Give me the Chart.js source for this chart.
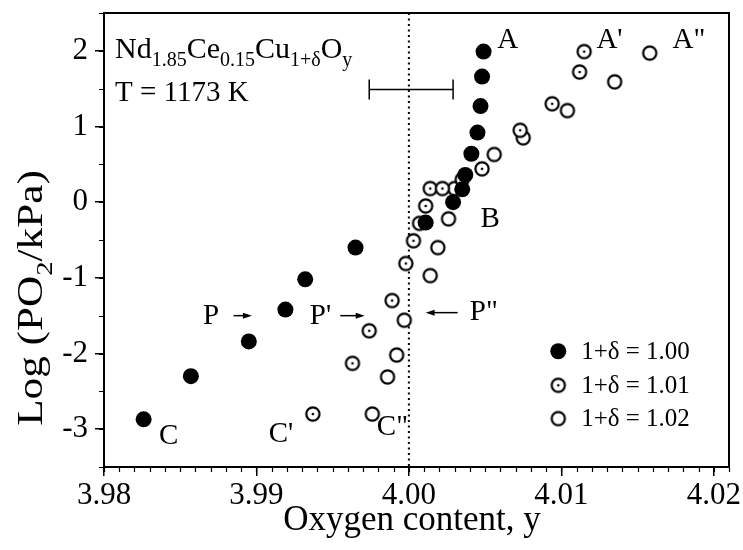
<!DOCTYPE html>
<html>
<head>
<meta charset="utf-8">
<script src="https://cdn.jsdelivr.net/npm/chart.js@4.4.0/dist/chart.umd.min.js"></script>
<style>
  html, body { margin: 0; padding: 0; background: #fff; }
  #wrap { width: 743px; height: 550px; }
</style>
</head>
<body>
<div id="wrap"><canvas id="myChart" width="743" height="550"></canvas></div>
<script>
// 1+delta = 1.00 (filled dots)
let oxy100  = [3.9826, 3.9857, 3.9895, 3.9919, 3.9932, 3.9965, 4.0011, 4.0029, 4.0035, 4.0037, 4.0041, 4.0045, 4.0047, 4.0048, 4.0049];
let logp100 = [-2.87, -2.30, -1.84, -1.42, -1.02, -0.60, -0.27, 0.00, 0.17, 0.36, 0.64, 0.92, 1.27, 1.66, 1.99];
// 1+delta = 1.01 (circle with centre dot)
let oxy101  = [3.9937, 3.9963, 3.9974, 3.9989, 3.9998, 4.0003, 4.0011, 4.0014, 4.0022, 4.0035, 4.0048, 4.0073, 4.0094, 4.0112, 4.0115];
let logp101 = [-2.80, -2.13, -1.70, -1.30, -0.81, -0.51, -0.05, 0.18, 0.18, 0.30, 0.44, 0.95, 1.30, 1.72, 1.99];
// 1+delta = 1.02 (open circles)
let oxy102  = [3.9976, 3.9986, 3.9992, 3.9997, 4.0007, 4.0014, 4.0019, 4.0026, 4.0030, 4.0056, 4.0075, 4.0104, 4.0135, 4.0158];
let logp102 = [-2.80, -2.31, -2.02, -1.56, -0.28, -0.97, -0.60, -0.22, 0.18, 0.63, 0.85, 1.21, 1.59, 1.97];

let seriesNames = ['1+δ = 1.00', '1+δ = 1.01', '1+δ = 1.02'];
let xTickVals = [3.98, 3.99, 4.00, 4.01, 4.02];
let yTickVals = [-3, -2, -1, 0, 1, 2];

// point labels (data coords, left edge of text)
let pointLabels = [
  ['A', 4.0058, 2.14], ["A'", 4.0123, 2.14], ['A"', 4.0173, 2.14],
  ['B', 4.0047, -0.23],
  ['C', 3.9836, -3.09], ["C'", 3.9908, -3.07], ['C"', 3.9979, -2.97],
  ['P', 3.9865, -1.51], ["P'", 3.9935, -1.51], ['P"', 4.0040, -1.46]
];
// arrows [fromX, toX, y] (head at toX)
let arrows = [[3.9885, 3.9897, -1.50], [3.9955, 3.9971, -1.50], [4.0032, 4.0011, -1.46]];
let errBar = [3.9974, 4.0029, 1.49];

const serif = "'Liberation Serif', 'Times New Roman', serif";
Chart.defaults.font.family = serif;
Chart.defaults.color = '#000';

function toPoints(xs, ys) { return xs.map((x, i) => ({x: x, y: ys[i]})); }

function ringMarker(withDot) {
  let c = document.createElement('canvas');
  c.width = 18; c.height = 18;
  let g = c.getContext('2d');
  g.fillStyle = '#fff';
  g.strokeStyle = '#000';
  g.lineWidth = 2.2;
  g.beginPath(); g.arc(9, 9, 6.6, 0, Math.PI * 2); g.fill(); g.stroke();
  if (withDot) { g.fillStyle = '#000'; g.beginPath(); g.arc(9, 9, 1.3, 0, Math.PI * 2); g.fill(); }
  return c;
}
let dotRing = ringMarker(true);
let openRing = ringMarker(false);

function richWidth(g, parts, size) {
  let w = 0;
  parts.forEach(p => {
    g.font = (p[1] ? Math.round(size * 0.68) : size) + 'px ' + serif;
    w += g.measureText(p[0]).width;
  });
  return w;
}
function drawRich(g, parts, x, y, size) {
  let cx = x;
  parts.forEach(p => {
    g.font = (p[1] ? Math.round(size * 0.68) : size) + 'px ' + serif;
    g.fillText(p[0], cx, y + (p[1] ? size * 0.27 : 0));
    cx += g.measureText(p[0]).width;
  });
}

let decor = {
  id: 'decor',
  beforeDatasetsDraw(chart) {
    let g = chart.ctx, a = chart.chartArea;
    let xs = chart.scales.x, ys = chart.scales.y;
    g.save();
    g.strokeStyle = '#000';
    // dotted line at y = 4.00
    g.lineWidth = 2;
    g.setLineDash([2, 3.5]);
    let x0 = xs.getPixelForValue(4.0);
    g.beginPath(); g.moveTo(x0, a.top); g.lineTo(x0, a.bottom); g.stroke();
    g.setLineDash([]);
    // error bar
    let e1 = xs.getPixelForValue(errBar[0]), e2 = xs.getPixelForValue(errBar[1]), ey = ys.getPixelForValue(errBar[2]);
    g.lineWidth = 1.5;
    g.beginPath();
    g.moveTo(e1, ey); g.lineTo(e2, ey);
    g.moveTo(e1, ey - 10); g.lineTo(e1, ey + 10);
    g.moveTo(e2, ey - 10); g.lineTo(e2, ey + 10);
    g.stroke();
    g.restore();
  },
  afterDraw(chart) {
    let g = chart.ctx, a = chart.chartArea;
    let xs = chart.scales.x, ys = chart.scales.y;
    g.save();
    g.strokeStyle = '#000';
    g.fillStyle = '#000';
    // top and right frame
    g.lineWidth = 2;
    g.beginPath();
    g.moveTo(a.left, a.top); g.lineTo(a.right, a.top); g.lineTo(a.right, a.bottom);
    g.stroke();
    // minor ticks
    g.lineWidth = 1.2;
    g.beginPath();
    for (let i = 0; i <= 41; i++) {
      let px = Math.round(xs.getPixelForValue(3.98 + i * 0.001)) + 0.5;
      g.moveTo(px, a.bottom); g.lineTo(px, a.bottom + 5);
    }
    for (let v = -3.5; v <= 2.5; v += 0.5) {
      let py = Math.round(ys.getPixelForValue(v)) + 0.5;
      g.moveTo(a.left, py); g.lineTo(a.left - 5, py);
    }
    g.stroke();

    // point labels
    g.textBaseline = 'middle';
    g.textAlign = 'left';
    g.font = '29px ' + serif;
    pointLabels.forEach(l => g.fillText(l[0], xs.getPixelForValue(l[1]), ys.getPixelForValue(l[2])));

    // arrows
    g.lineWidth = 1.5;
    arrows.forEach(ar => {
      let p1 = xs.getPixelForValue(ar[0]), p2 = xs.getPixelForValue(ar[1]), py = ys.getPixelForValue(ar[2]);
      let dir = p2 > p1 ? 1 : -1;
      g.beginPath(); g.moveTo(p1, py); g.lineTo(p2 - dir * 6, py); g.stroke();
      g.beginPath();
      g.moveTo(p2, py); g.lineTo(p2 - dir * 9, py - 3); g.lineTo(p2 - dir * 9, py + 3); g.closePath();
      g.fill();
    });

    // formula and temperature
    g.textBaseline = 'alphabetic';
    drawRich(g, [['Nd'], ['1.85', 1], ['Ce'], ['0.15', 1], ['Cu'], ['1+δ', 1], ['O'], ['y', 1]], a.left + 11, 58, 30);
    g.font = '29px ' + serif;
    g.fillText('T = 1173 K', a.left + 11, 101);

    // legend
    let lx = xs.getPixelForValue(4.0098), tx = xs.getPixelForValue(4.0113);
    let legY = [-1.97, -2.42, -2.86];
    g.textBaseline = 'middle';
    g.font = '25px ' + serif;
    legY.forEach((v, i) => {
      let py = ys.getPixelForValue(v);
      if (i === 0) { g.beginPath(); g.arc(lx, py, 8, 0, Math.PI * 2); g.fill(); }
      else g.drawImage(i === 1 ? dotRing : openRing, lx - 9, py - 9);
      g.fillText(seriesNames[i], tx, py + 1);
    });

    // axis titles
    g.textAlign = 'center';
    g.textBaseline = 'alphabetic';
    g.font = '35px ' + serif;
    g.fillText('Oxygen content, y', 412, 530);

    let parts = [['Log (PO'], ['2', 1], ['/kPa)']];
    let w = richWidth(g, parts, 36);
    g.save();
    g.translate(42, 298);
    g.rotate(-Math.PI / 2);
    g.scale(1.2, 1);
    g.textAlign = 'left';
    drawRich(g, parts, -w / 2, 0, 36);
    g.restore();
    g.restore();
  }
};

let ctx = document.getElementById('myChart').getContext('2d');
let myChart = new Chart(ctx, {
  type: 'scatter',
  data: {
    datasets: [{
      label: seriesNames[0],
      data: toPoints(oxy100, logp100),
      pointStyle: 'circle',
      pointRadius: 8,
      backgroundColor: '#000',
      borderColor: '#000',
      borderWidth: 0
    }, {
      label: seriesNames[1],
      data: toPoints(oxy101, logp101),
      pointStyle: dotRing
    }, {
      label: seriesNames[2],
      data: toPoints(oxy102, logp102),
      pointStyle: openRing
    }]
  },
  options: {
    responsive: false,
    animation: false,
    events: [],
    layout: { padding: { top: 13, right: 14, left: 0, bottom: 0 } },
    plugins: { legend: { display: false }, tooltip: { enabled: false } },
    scales: {
      x: {
        type: 'linear',
        min: 3.98,
        max: 4.021,
        afterBuildTicks: s => { s.ticks = xTickVals.map(v => ({value: v})); },
        afterFit: s => { s.height = 83; s.paddingLeft = 0; s.paddingRight = 0; },
        border: { display: true, color: '#000', width: 2 },
        grid: { drawOnChartArea: false, drawTicks: true, tickLength: 9, color: '#000', lineWidth: 1.5 },
        ticks: { font: { size: 31 }, color: '#000', padding: 1, maxRotation: 0, callback: v => v.toFixed(2) }
      },
      y: {
        min: -3.5,
        max: 2.5,
        afterBuildTicks: s => { s.ticks = yTickVals.map(v => ({value: v})); },
        afterFit: s => { s.width = 104; s.paddingTop = 0; s.paddingBottom = 0; },
        border: { display: true, color: '#000', width: 2 },
        grid: { drawOnChartArea: false, drawTicks: true, tickLength: 9, color: '#000', lineWidth: 1.5 },
        ticks: { font: { size: 31 }, color: '#000', padding: 7, callback: v => String(v) }
      }
    }
  },
  plugins: [decor]
});
</script>
</body>
</html>
